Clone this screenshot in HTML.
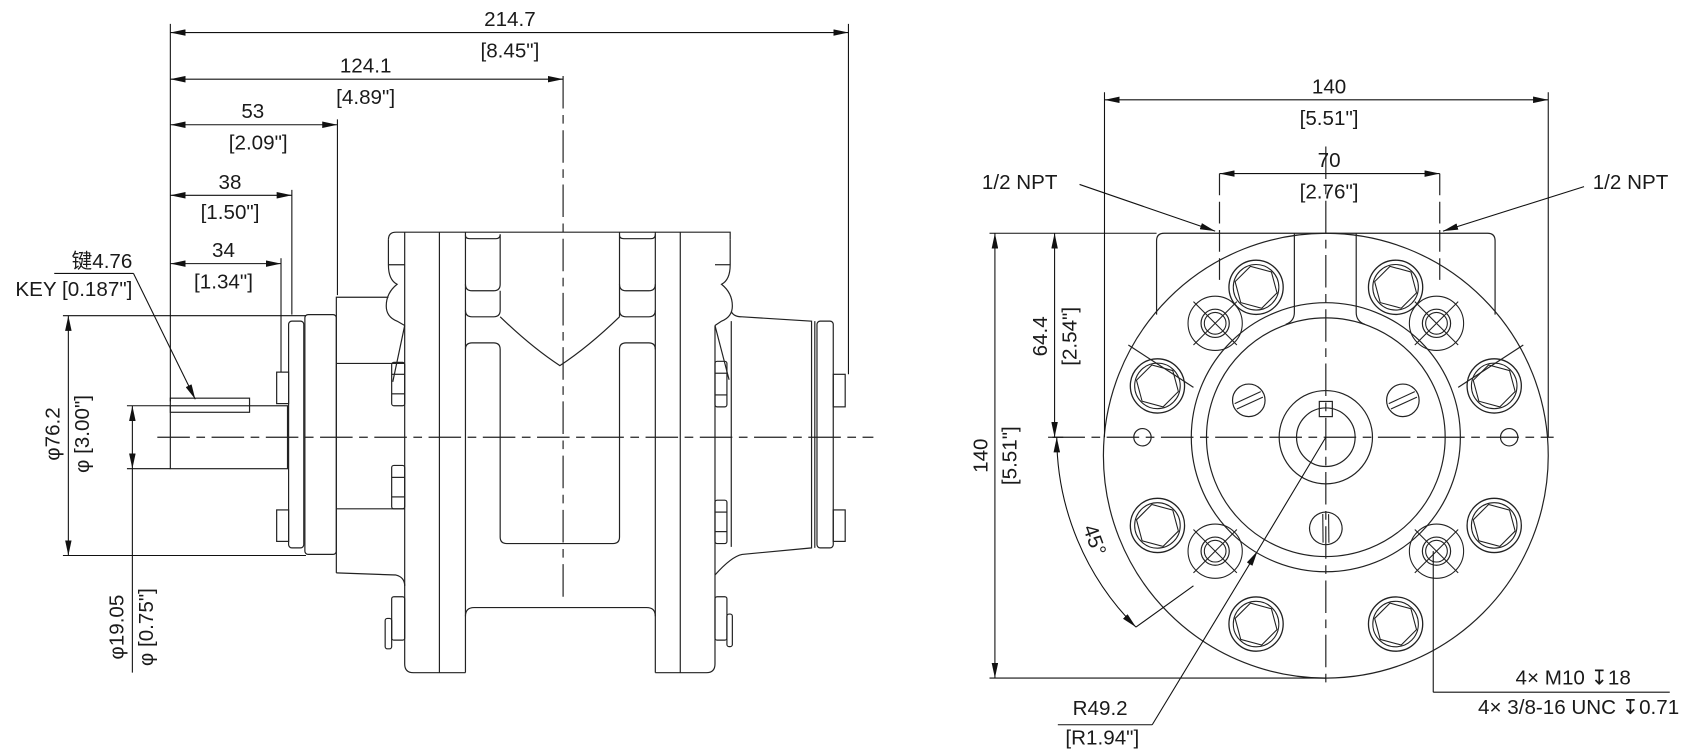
<!DOCTYPE html>
<html><head><meta charset="utf-8"><style>
html,body{margin:0;padding:0;background:#fff;}
svg{display:block;}
text{font-family:"Liberation Sans","Noto Sans CJK SC",sans-serif;font-size:19px;fill:#1a1a1a;}
.dep{font-family:"DejaVu Sans",sans-serif;}
</style></head><body>
<svg width="1692" height="751" viewBox="0 0 1559.5 692.2" preserveAspectRatio="none" xmlns="http://www.w3.org/2000/svg">
<defs>
<marker id="a" viewBox="0 0 14 6" refX="14" refY="3" markerWidth="14" markerHeight="6" markerUnits="userSpaceOnUse" orient="auto-start-reverse"><path d="M0,0 L14,3 L0,6 z" fill="#111"/></marker>
<g id="bolt"><circle r="25" fill="none" stroke="#222" stroke-width="1.2"/><circle r="21" fill="none" stroke="#222" stroke-width="1"/><polygon points="20,0 10,17.3 -10,17.3 -20,0 -10,-17.3 10,-17.3" fill="none" stroke="#222" stroke-width="1" transform="rotate(15)"/></g>
<g id="hole"><circle r="25" fill="none" stroke="#222" stroke-width="1"/><circle r="13" fill="none" stroke="#222" stroke-width="1.1"/><circle r="10" fill="none" stroke="#222" stroke-width="1"/></g>
<g id="slot"><circle r="15" fill="none" stroke="#222" stroke-width="1.1"/><line x1="-13" y1="3" x2="11" y2="-8" stroke="#222"/><line x1="-11" y1="8" x2="13" y2="-3" stroke="#222"/></g>
</defs>
<g fill="none" stroke="#222" stroke-width="1.1">
<line x1="145" y1="403" x2="805" y2="403" stroke-dasharray="30,6,8,6"/>
<line x1="519" y1="70" x2="519" y2="552" stroke-dasharray="30,6,8,6"/>
<rect x="157" y="374" width="108" height="58"/>
<rect x="157" y="367" width="73" height="13"/>
<rect x="266" y="296" width="14" height="209" rx="3"/>
<rect x="281" y="290" width="29" height="221" rx="3"/>
<path d="M310,528 L310,274 L358,274"/>
<path d="M310,528 L365,530 Q373,532 373,540"/>
<line x1="310" y1="335" x2="373" y2="335"/>
<line x1="310" y1="469" x2="373" y2="469"/>
<rect x="255" y="343" width="11" height="29"/>
<rect x="255" y="470" width="11" height="29"/>
<path d="M373,214 L373,612 Q373,620 381,620 L429,620"/>
<path d="M358,221 Q358,214 365,214 L673,214 Q673,214 673,221"/>
<path d="M358,221 L358,244 Q358,258 366,262 Q356,270 356,282 Q356,292 366,296 L373,300"/>
<line x1="405" y1="214" x2="405" y2="620"/>
<line x1="358" y1="244" x2="373" y2="244"/>
<path d="M373,300 L362,352"/>
<rect x="361" y="334" width="12" height="40" rx="2"/><line x1="361" y1="345" x2="373" y2="345"/><line x1="361" y1="363" x2="373" y2="363"/>
<rect x="361" y="429" width="12" height="40" rx="2"/><line x1="361" y1="440" x2="373" y2="440"/><line x1="361" y1="458" x2="373" y2="458"/>
<rect x="361" y="550" width="12" height="40" rx="2"/><rect x="355" y="570" width="6" height="28" rx="2"/>
<line x1="429" y1="214" x2="429" y2="620"/>
<line x1="604" y1="214" x2="604" y2="620"/>
<path d="M429,568 Q429,560 437,560 L596,560 Q604,560 604,568"/>
<path d="M429,217 Q429,220 433,220 L457,220 Q461,220 461,216"/>
<path d="M429,262 Q429,268 435,268 L455,268 Q461,268 461,262 L461,216"/>
<path d="M429,286 Q429,292 435,292 L455,292 Q461,292 461,286 L461,268"/>
<path d="M429,322 Q429,316 435,316 L455,316 Q461,316 461,322 L461,495 Q461,501 467,501 L565,501 Q571,501 571,495 L571,322 Q571,316 577,316 L598,316 Q604,316 604,322"/>
<path d="M571,217 Q571,220 575,220 L600,220 Q604,220 604,216"/>
<path d="M571,262 Q571,268 577,268 L598,268 Q604,268 604,262"/>
<path d="M571,286 Q571,292 577,292 L598,292 Q604,292 604,286"/>
<line x1="571" y1="214" x2="571" y2="292"/>
<path d="M461,292 Q490,320 516,337 Q542,320 571,292"/>
<line x1="627" y1="214" x2="627" y2="620"/>
<path d="M604,620 L651,620 Q659,620 659,612 L659,300"/>
<path d="M673,221 L673,244 Q673,258 665,262 Q675,270 675,282 Q675,292 665,296 L659,300"/>
<line x1="659" y1="244" x2="673" y2="244"/>
<line x1="674" y1="296" x2="674" y2="504"/>
<path d="M659,300 L672,350"/>
<rect x="659" y="333" width="11" height="42" rx="2"/><line x1="659" y1="344" x2="670" y2="344"/><line x1="659" y1="364" x2="670" y2="364"/>
<rect x="659" y="461" width="11" height="40" rx="2"/><line x1="659" y1="472" x2="670" y2="472"/><line x1="659" y1="490" x2="670" y2="490"/>
<rect x="659" y="550" width="11" height="40" rx="2"/><rect x="670" y="566" width="5" height="30" rx="2"/>
<path d="M674,287 Q676,292 684,292 L748,296 L748,505 L684,511 Q674,513 659,530"/>
<line x1="751" y1="296" x2="751" y2="505"/>
<rect x="753" y="296" width="15" height="209" rx="3"/>
<rect x="768" y="345" width="11" height="30"/>
<rect x="768" y="470" width="11" height="29"/>
</g>
<g stroke="#111" stroke-width="1" fill="none">
<line x1="157" y1="22" x2="157" y2="370"/>
<line x1="782" y1="22" x2="782" y2="345"/>
<line x1="311" y1="110" x2="311" y2="272"/>
<line x1="269" y1="175" x2="269" y2="290"/>
<line x1="259" y1="238" x2="259" y2="343"/>
<line x1="157" y1="30" x2="782" y2="30" marker-start="url(#a)" marker-end="url(#a)"/>
<line x1="157" y1="73" x2="519" y2="73" marker-start="url(#a)" marker-end="url(#a)"/>
<line x1="157" y1="115" x2="311" y2="115" marker-start="url(#a)" marker-end="url(#a)"/>
<line x1="157" y1="180" x2="269" y2="180" marker-start="url(#a)" marker-end="url(#a)"/>
<line x1="157" y1="243" x2="259" y2="243" marker-start="url(#a)" marker-end="url(#a)"/>
<line x1="58" y1="291" x2="282" y2="291"/>
<line x1="58" y1="512" x2="282" y2="512"/>
<line x1="63" y1="291" x2="63" y2="512" marker-start="url(#a)" marker-end="url(#a)"/>
<line x1="117" y1="374" x2="157" y2="374"/>
<line x1="117" y1="432" x2="157" y2="432"/>
<line x1="122" y1="374" x2="122" y2="432" marker-start="url(#a)" marker-end="url(#a)"/>
<line x1="122" y1="432" x2="122" y2="620"/>
<line x1="50" y1="252" x2="123" y2="252"/>
<line x1="123" y1="252" x2="180" y2="368" marker-end="url(#a)"/>
</g>
<g text-anchor="middle">
<text x="470" y="24">214.7</text><text x="470" y="53">[8.45"]</text>
<text x="337" y="67">124.1</text><text x="337" y="96">[4.89"]</text>
<text x="233" y="109">53</text><text x="238" y="138">[2.09"]</text>
<text x="212" y="174">38</text><text x="212" y="202">[1.50"]</text>
<text x="206" y="237">34</text><text x="206" y="266">[1.34"]</text>
<text x="55" y="400" transform="rotate(-90 55 400)">φ76.2</text>
<text x="82" y="400" transform="rotate(-90 82 400)">φ [3.00"]</text>
<text x="114" y="578" transform="rotate(-90 114 578)">φ19.05</text>
<text x="141" y="578" transform="rotate(-90 141 578)">φ [0.75"]</text>
</g>
<text x="122" y="247" text-anchor="end">键4.76</text>
<text x="122" y="273" text-anchor="end">KEY [0.187"]</text>

<g fill="none" stroke="#222" stroke-width="1.1">
<line x1="970" y1="403" x2="1432" y2="403" stroke-dasharray="30,6,8,6"/>
<line x1="1222" y1="135" x2="1222" y2="635" stroke-dasharray="30,6,8,6"/>
<line x1="1124" y1="160" x2="1124" y2="262" stroke-dasharray="20,6"/>
<line x1="1327" y1="160" x2="1327" y2="262" stroke-dasharray="20,6"/>
<circle cx="1222" cy="420" r="205"/>
<path d="M1066,290 L1066,222 Q1066,215 1073,215 L1371,215 Q1378,215 1378,222 L1378,290"/>
<path d="M1193,215 L1193,288 Q1193,296 1185,299"/>
<path d="M1250,215 L1250,288 Q1250,296 1258,299"/>
<circle cx="1222" cy="403" r="124"/>
<circle cx="1222" cy="403" r="110"/>
<circle cx="1222" cy="403" r="43"/>
<circle cx="1222" cy="403" r="27"/>
<rect x="1216" y="370" width="12" height="14"/>
<circle cx="1053" cy="403" r="8"/>
<circle cx="1391" cy="403" r="8"/>
<line x1="1040" y1="318" x2="1100" y2="357"/>
<line x1="1404" y1="318" x2="1344" y2="357"/>
</g>
<use href="#bolt" x="1157.7" y="264.8"/><use href="#bolt" x="1286.3" y="264.8"/>
<use href="#bolt" x="1066.8" y="355.7"/><use href="#bolt" x="1377.2" y="355.7"/>
<use href="#bolt" x="1066.8" y="484.3"/><use href="#bolt" x="1377.2" y="484.3"/>
<use href="#bolt" x="1157.7" y="575.2"/><use href="#bolt" x="1286.3" y="575.2"/>
<use href="#hole" x="1120" y="298"/><use href="#hole" x="1324" y="298"/>
<use href="#hole" x="1120" y="508"/><use href="#hole" x="1324" y="508"/>
<g stroke="#222" stroke-width="1">
<line x1="1100" y1="278" x2="1140" y2="318"/><line x1="1140" y1="278" x2="1100" y2="318"/>
<line x1="1304" y1="278" x2="1344" y2="318"/><line x1="1344" y1="278" x2="1304" y2="318"/>
<line x1="1100" y1="488" x2="1140" y2="528"/><line x1="1140" y1="488" x2="1100" y2="528"/>
<line x1="1304" y1="488" x2="1344" y2="528"/><line x1="1344" y1="488" x2="1304" y2="528"/>
</g>
<use href="#slot" x="1151" y="369"/><use href="#slot" x="1293" y="369"/>
<g transform="translate(1222 487) rotate(-66)"><use href="#slot"/></g>
<g stroke="#111" stroke-width="1" fill="none">
<line x1="1018" y1="85" x2="1018" y2="403"/>
<line x1="1427" y1="85" x2="1427" y2="403"/>
<line x1="1018" y1="92" x2="1427" y2="92" marker-start="url(#a)" marker-end="url(#a)"/>
<line x1="1124" y1="160" x2="1327" y2="160" marker-start="url(#a)" marker-end="url(#a)"/>
<line x1="912" y1="215" x2="1066" y2="215"/>
<line x1="912" y1="625" x2="1222" y2="625"/>
<line x1="966" y1="403" x2="980" y2="403"/>
<line x1="917" y1="215" x2="917" y2="625" marker-start="url(#a)" marker-end="url(#a)"/>
<line x1="972" y1="215" x2="972" y2="403" marker-start="url(#a)" marker-end="url(#a)"/>
<path d="M974,403 A248,248 0 0 0 1047,578" marker-start="url(#a)" marker-end="url(#a)"/>
<line x1="1047" y1="578" x2="1100" y2="540"/>
<line x1="1062" y1="668" x2="1159" y2="508" marker-end="url(#a)"/>
<line x1="1159" y1="508" x2="1222" y2="403"/>
<line x1="975" y1="668" x2="1062" y2="668"/>
<line x1="995" y1="170" x2="1120" y2="213" marker-end="url(#a)"/>
<line x1="1460" y1="172" x2="1330" y2="213" marker-end="url(#a)"/>
<line x1="1321" y1="508" x2="1321" y2="638"/>
<line x1="1321" y1="638" x2="1539" y2="638"/>
</g>
<g text-anchor="middle">
<text x="1225" y="86">140</text><text x="1225" y="115">[5.51"]</text>
<text x="1225" y="154">70</text><text x="1225" y="183">[2.76"]</text>
<text x="910" y="420" transform="rotate(-90 910 420)">140</text>
<text x="937" y="420" transform="rotate(-90 937 420)">[5.51"]</text>
<text x="965" y="310" transform="rotate(-90 965 310)">64.4</text>
<text x="992" y="310" transform="rotate(-90 992 310)">[2.54"]</text>
<text x="1003" y="500" transform="rotate(70 1003 500)">45°</text>
<text x="1014" y="659">R49.2</text><text x="1016" y="686">[R1.94"]</text>
<text x="1450" y="631">4× M10 <tspan class="dep">↧</tspan>18</text>
<text x="1455" y="658">4× 3/8-16 UNC <tspan class="dep">↧</tspan>0.71</text>
</g>
<text x="905" y="174">1/2 NPT</text>
<text x="1468" y="174">1/2 NPT</text>
</svg>
</body></html>
